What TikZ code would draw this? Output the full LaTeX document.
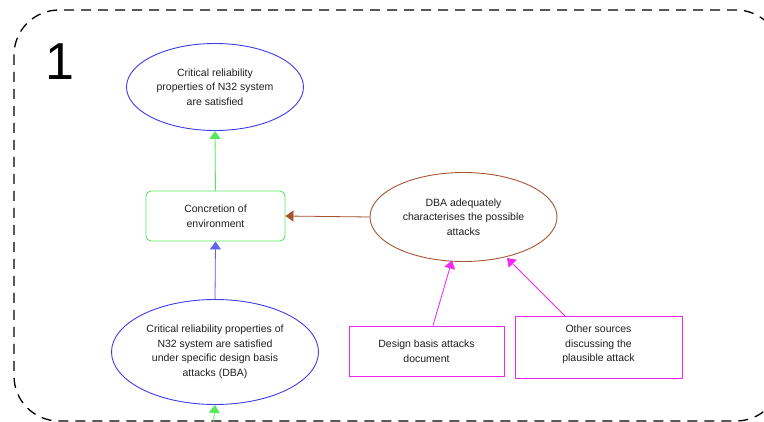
\documentclass[tikz,border=0pt]{standalone}
\usepackage{fontspec}
\setmainfont{Liberation Sans}
\usetikzlibrary{shapes.geometric,arrows.meta}
\definecolor{gblue}{RGB}{60,60,235}
\definecolor{ggreen}{RGB}{90,230,90}
\definecolor{arrgreen}{RGB}{40,230,40}
\definecolor{gbrown}{RGB}{165,85,50}
\definecolor{gmag}{RGB}{240,40,240}
\definecolor{gtext}{RGB}{30,30,30}
\tikzset{
  every node/.style={font=\fontsize{10.5}{14.5}\selectfont, text=gtext, align=center, inner sep=0pt},
  goalell/.style={ellipse, draw=gblue, line width=0.9pt},
  ctxbox/.style={rectangle, rounded corners=5pt, draw=ggreen, line width=0.9pt},
  brownell/.style={ellipse, draw=gbrown, line width=0.9pt},
  evbox/.style={rectangle, draw=gmag, line width=0.9pt},
  tri/.style={-{Triangle[width=11pt,length=8pt]}, line width=0.8pt},
}
\begin{document}
\begin{tikzpicture}[x=1pt,y=-1pt]
\useasboundingbox (0,0) rectangle (764,422);
\clip (0,0) rectangle (764,422);
% dashed frame
\draw[dashed, dash pattern=on 10pt off 7pt, line width=1.3pt, rounded corners=45pt] (14,10) rectangle (781,421);
\node[font=\fontsize{52}{52}\selectfont, text=black] (num) at (60,62) {1};
% nodes
\node[goalell, minimum width=177pt, minimum height=87pt] (g1) at (215,87) {Critical reliability\\properties of N32 system\\are satisfied};
\node[ctxbox, minimum width=139pt, minimum height=50pt] (c1) at (215.5,216) {Concretion of\\environment};
\node[goalell, minimum width=207pt, minimum height=105pt] (g2) at (215,352) {Critical reliability properties of\\N32 system are satisfied\\under specific design basis\\attacks (DBA)};
\node[brownell, minimum width=187pt, minimum height=89pt] (dba) at (463.5,217) {DBA adequately\\characterises the possible\\attacks};
\node[evbox, minimum width=155pt, minimum height=50pt] (e1) at (426.5,351) {Design basis attacks\\document};
\node[evbox, minimum width=167pt, minimum height=62pt, anchor=north west] (e2) at (515,316) {};
\node[anchor=north, text depth=0pt] (e2t) at (598.5,325) {Other sources\\discussing the\\plausible attack};
\coordinate (below) at (213,430);
% connectors
\draw[tri, draw=ggreen, fill=arrgreen] (c1.north) -- (g1.south);
\draw[tri, draw=gblue!80, fill=gblue] (g2.north) -- (c1.south);
\draw[tri, draw=gbrown, fill=gbrown] (dba.west) -- (c1.east);
\draw[tri, draw=gmag, fill=gmag] (e1.north -| 433,0) -- (452,260.5);
\draw[tri, draw=gmag, fill=gmag] (e2.north -| 565,0) -- (507,258);
\draw[tri, draw=ggreen, fill=arrgreen] (below) -- (g2.south);
\end{tikzpicture}
\end{document}
